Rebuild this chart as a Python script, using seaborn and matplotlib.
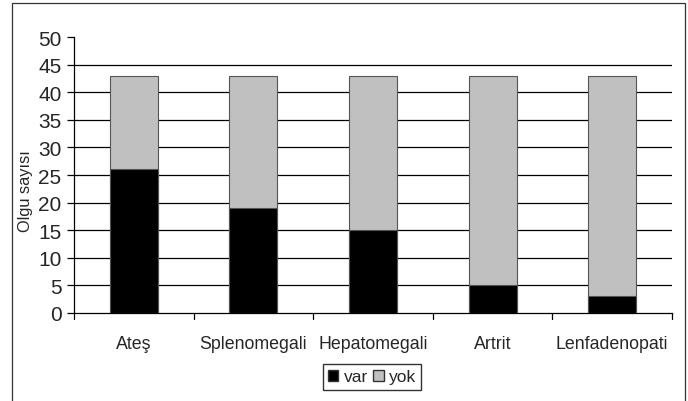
import matplotlib
matplotlib.use("Agg")
import matplotlib.pyplot as plt
import seaborn as sns
import pandas as pd
from matplotlib.patches import Patch, Rectangle

# Veriler
kategoriler = ["Ateş", "Splenomegali", "Hepatomegali", "Artrit", "Lenfadenopati"]
var = [26, 19, 15, 5, 3]
yok = [17, 24, 28, 38, 40]

df = pd.DataFrame({"kategori": kategoriler, "var": var, "yok": yok})
df["toplam"] = df["var"] + df["yok"]

sns.set_style("white")
plt.rcParams["font.family"] = ["Liberation Sans", "DejaVu Sans"]

fig = plt.figure(figsize=(6.88, 4.02), dpi=100)
W, H = 688, 402
ax = fig.add_axes([74 / W, 1 - 314 / H, (672 - 74) / W, (314 - 38) / H])

sns.barplot(data=df, x="kategori", y="toplam", color="#c0c0c0", width=0.4,
            edgecolor="#555555", linewidth=0.8, saturation=1, ax=ax, zorder=3)
sns.barplot(data=df, x="kategori", y="var", color="black", width=0.4,
            edgecolor="#555555", linewidth=0.8, saturation=1, ax=ax, zorder=4)

ax.set_ylim(0, 50)
ax.set_xlim(-0.5, len(kategoriler) - 0.5)
ax.set_yticks(range(0, 51, 5))
for yv in range(5, 50, 5):
    ax.axhline(yv, color="black", linewidth=0.9, zorder=1)

ax.set_xticks([i for i in range(len(kategoriler))])
ax.set_xticklabels(kategoriler, fontsize=12.8)
ax.tick_params(axis="x", length=0, pad=16)
# kategori sınırlarındaki tikler
for b in [i - 0.5 for i in range(len(kategoriler) + 1)]:
    ax.plot([b, b], [0, -0.022], transform=ax.get_xaxis_transform(),
            color="black", linewidth=0.9, clip_on=False)
ax.tick_params(axis="y", length=5, width=0.9, color="black", labelsize=15, pad=4, left=True)

for s in ["top", "right"]:
    ax.spines[s].set_visible(False)
for s in ["left", "bottom"]:
    ax.spines[s].set_color("black")
    ax.spines[s].set_linewidth(0.9)

ax.set_xlabel("")
ax.set_ylabel("Olgu sayısı", fontsize=11.8)
ax.yaxis.set_label_coords(-0.068, 0.445)

handles = [Patch(facecolor="black", edgecolor="#333333", label="var"),
           Patch(facecolor="#c0c0c0", edgecolor="#333333", label="yok")]
fig.legend(handles=handles, loc="center", bbox_to_anchor=(372 / W, 1 - 378 / H),
           ncol=2, frameon=True, fancybox=False, edgecolor="black", fontsize=12.5,
           handlelength=0.6, handleheight=0.6, handletextpad=0.3, columnspacing=0.3,
           borderpad=0.3, borderaxespad=0)

# dış çerçeve
fig.patches.append(Rectangle((12 / W, -0.05), (685 - 12) / W, 1 - 4 / H + 0.05,
                             transform=fig.transFigure, fill=False,
                             edgecolor="#333333", linewidth=0.9))

fig.savefig("out.png", dpi=100)
